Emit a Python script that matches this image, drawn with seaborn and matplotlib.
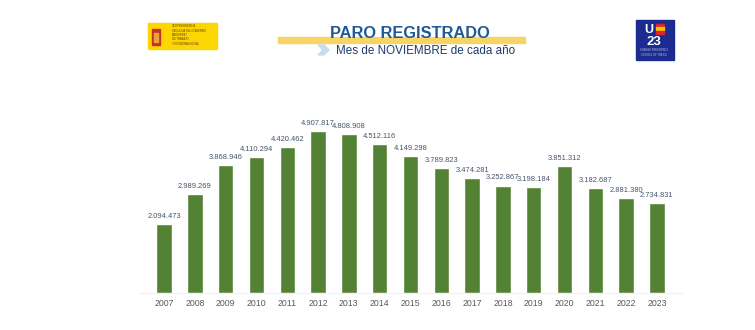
import matplotlib
matplotlib.use("Agg")
import matplotlib.pyplot as plt
from matplotlib.patches import Rectangle, Polygon
import seaborn as sns
import pandas as pd

# Registered unemployment, November of each year
years = ["2007", "2008", "2009", "2010", "2011", "2012", "2013", "2014", "2015",
         "2016", "2017", "2018", "2019", "2020", "2021", "2022", "2023"]
parados = [2094473, 2989269, 3868946, 4110294, 4420462, 4907817, 4808908, 4512116,
           4149298, 3789823, 3474281, 3252867, 3198184, 3851312, 3182687, 2881380,
           2734831]

title = "PARO REGISTRADO"
subtitle = "Mes de NOVIEMBRE de cada año"

W, H = 755, 330
sns.set_theme(style="white")
plt.rcParams["font.family"] = ["Liberation Sans", "DejaVu Sans"]

fig = plt.figure(figsize=(W / 100, H / 100), dpi=100)
fig.patch.set_facecolor("white")


def fx(px):
    return px / W


def fy(py):
    return 1 - py / H


# ---- bar chart ----
ax = fig.add_axes([fx(139.4), fy(293), fx(542.2), 181.5 / H])
df = pd.DataFrame({"year": years, "parados": parados})
sns.barplot(data=df, x="year", y="parados", color="#548235", width=0.5,
            saturation=1, ax=ax)
ax.set_xlim(-0.8, 16.8)
ax.set_ylim(0, 5500000)
labels = [f"{v:,}".replace(",", ".") for v in parados]
ax.bar_label(ax.containers[0], labels=labels, padding=3, fontsize=5.4,
             color="#44546A")
ax.set_xlabel("")
ax.set_ylabel("")
ax.set_yticks([])
ax.tick_params(axis="x", length=0, labelsize=6.3, labelcolor="#595959", pad=4)
for s in ["top", "left", "right"]:
    ax.spines[s].set_visible(False)
ax.spines["bottom"].set_color("#F0F0F0")
ax.spines["bottom"].set_linewidth(0.8)
ax.set_facecolor("none")

# ---- header ----
# yellow band behind the title
fig.patches.append(Rectangle((fx(278), fy(42.5)), fx(247), 5.5 / H,
                             transform=fig.transFigure, color="#F7D463",
                             zorder=1))
fig.text(fx(410), fy(34), title, ha="center", va="center", fontsize=11.8,
         fontweight="bold", color="#1F5A96", zorder=3)
# chevron
chev = [(318, 45), (324, 45), (329, 50), (324, 55), (318, 55), (323, 50)]
fig.patches.append(Polygon([(fx(a), fy(b)) for a, b in chev], closed=True,
                           transform=fig.transFigure, color="#C5DDF0",
                           zorder=2))
fig.text(fx(336), fy(50.5), subtitle, ha="left", va="center", fontsize=8.4,
         color="#1F3B70", zorder=3)

# left emblem: ministry block
fig.patches.append(Rectangle((fx(148), fy(49)), fx(69), 26 / H,
                             transform=fig.transFigure, color="#FCD600",
                             zorder=1))
fig.patches.append(Rectangle((fx(152), fy(45)), fx(8), 16 / H,
                             transform=fig.transFigure, color="#C8312B",
                             zorder=2))
fig.patches.append(Rectangle((fx(154), fy(42)), fx(4), 9 / H,
                             transform=fig.transFigure, color="#E9A33B",
                             zorder=3))
fig.text(fx(172), fy(28.5), "VICEPRESIDENCIA\nSEGUNDA DEL GOBIERNO",
         fontsize=1.9, color="#5A3A10", va="center", ha="left",
         linespacing=1.1)
fig.text(fx(172), fy(39.5), "MINISTERIO\nDE TRABAJO\nY ECONOMÍA SOCIAL",
         fontsize=1.9, color="#5A3A10", va="center", ha="left",
         linespacing=1.1)

# right emblem: presidency logo
fig.patches.append(Rectangle((fx(636), fy(60)), fx(38), 40 / H,
                             transform=fig.transFigure, color="#1C2B8F",
                             zorder=1))
fig.text(fx(649), fy(30), "U", fontsize=9, fontweight="bold",
         color="white", ha="center", va="center")
for i, c in enumerate(["#D8262E", "#F5C300", "#D8262E"]):
    fig.patches.append(Rectangle((fx(656), fy(27 + i * 3.3)), fx(8), 2.8 / H,
                                 transform=fig.transFigure, color=c,
                                 zorder=2))
fig.text(fx(654), fy(42), "23", fontsize=9.5, fontweight="bold",
         color="white", ha="center", va="center")
fig.text(fx(654), fy(52.5), "SPANISH PRESIDENCY\nCOUNCIL OF THE EU",
         fontsize=1.8, color="#C9CDE8", ha="center", va="center",
         linespacing=1.1)

fig.savefig("out.png", dpi=100, facecolor="white")
